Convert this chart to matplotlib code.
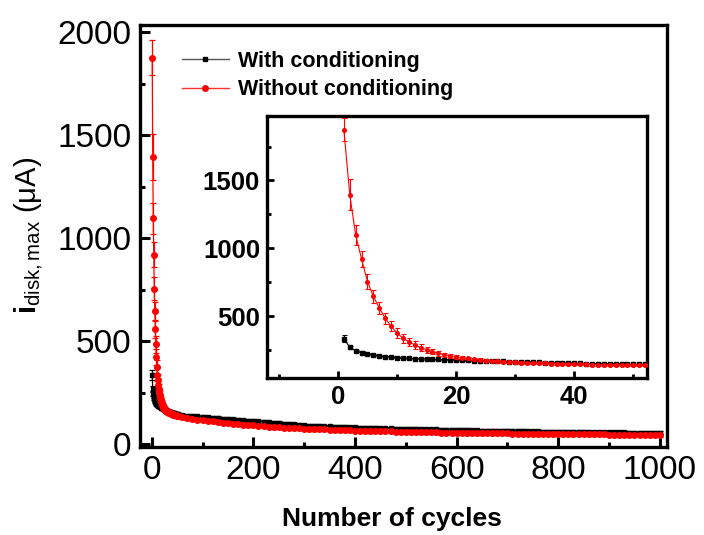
import numpy as np
import matplotlib
matplotlib.use("Agg")
import matplotlib.pyplot as plt
from matplotlib.lines import Line2D
from matplotlib.ticker import MultipleLocator

plt.rcParams['font.family'] = ['Liberation Sans', 'DejaVu Sans']
plt.rcParams['mathtext.fontset'] = 'custom'
plt.rcParams['mathtext.rm'] = 'Liberation Sans'
plt.rcParams['mathtext.bf'] = 'Liberation Sans:bold'
plt.rcParams['mathtext.it'] = 'Liberation Sans:italic'

# ---- data: peak disk current per cycle ----
early_cycles = list(range(1, 53))
with_cond_early = [335, 270, 245, 232, 222, 214, 207, 202, 198, 194,
                   191, 189, 187, 185, 184, 182, 181, 179, 178, 177,
                   175, 174, 172, 171, 170, 168, 167, 166, 164, 163,
                   162, 161, 160, 159, 158, 157, 156, 155, 154, 153,
                   152, 151, 150, 150, 149, 148, 147, 147, 146, 145,
                   145, 144]
with_cond_early_err = [25, 12, 9, 8, 7, 7, 6, 6, 6, 6,
                       5, 5, 5, 5, 5, 5, 5, 5, 5, 5,
                       5, 5, 5, 5, 5, 5, 5, 5, 5, 5,
                       5, 5, 5, 5, 5, 5, 5, 5, 5, 5,
                       5, 5, 5, 5, 5, 5, 5, 5, 5, 5,
                       5, 5]
without_cond_early = [1875, 1395, 1098, 920, 755, 645, 560, 485, 425, 375,
                      338, 312, 288, 268, 252, 238, 226, 216, 208, 201,
                      194, 188, 183, 178, 173, 170, 167, 164, 162, 160,
                      158, 156, 155, 153, 152, 151, 150, 149, 148, 146,
                      145, 144, 143, 143, 142, 141, 140, 140, 139, 138,
                      138, 137]
without_cond_early_err = [85, 112, 75, 60, 55, 45, 42, 40, 38, 35,
                          33, 30, 28, 25, 22, 20, 18, 16, 15, 14,
                          13, 12, 12, 11, 11, 10, 10, 10, 9, 9,
                          9, 9, 9, 8, 8, 8, 8, 8, 8, 8,
                          8, 8, 8, 8, 8, 8, 8, 8, 8, 8,
                          8, 8]

late_cycles = list(range(60, 1001, 10))
with_cond_late = [141, 139, 137, 135, 133, 131, 129, 127, 125, 123,
                  121, 119, 117, 115, 113, 111, 109, 107, 105, 103,
                  101, 99, 97, 95, 93, 91, 90, 89, 88, 87,
                  86, 85, 84, 83, 82, 81, 80, 80, 79, 78,
                  78, 77, 76, 76, 75, 74, 74, 73, 73, 72,
                  72, 71, 71, 70, 70, 69, 69, 68, 68, 67,
                  67, 66, 66, 65, 65, 65, 64, 64, 63, 63,
                  63, 62, 62, 62, 61, 61, 61, 60, 60, 60,
                  59, 59, 59, 59, 58, 58, 58, 58, 57, 57,
                  57, 57, 56, 56, 56]
without_cond_late = [132, 128, 124, 120, 117, 114, 111, 108, 105, 102,
                     100, 98, 96, 94, 92, 90, 88, 86, 84, 82,
                     81, 80, 78, 77, 76, 75, 74, 73, 72, 71,
                     70, 70, 69, 68, 67, 67, 66, 65, 65, 64,
                     63, 63, 62, 62, 61, 60, 60, 59, 59, 58,
                     58, 57, 57, 56, 56, 56, 55, 55, 55, 54,
                     54, 54, 53, 53, 53, 52, 52, 52, 51, 51,
                     51, 51, 50, 50, 50, 50, 49, 49, 49, 49,
                     48, 48, 48, 48, 47, 47, 47, 47, 47, 46,
                     46, 46, 46, 45, 45]
late_err = 8

series_labels = ["With conditioning", "Without conditioning"]
main_xticks = [0, 200, 400, 600, 800, 1000]
main_yticks = [0, 500, 1000, 1500, 2000]
inset_xticks = [0, 20, 40]
inset_yticks = [500, 1000, 1500]

cyc = np.array(early_cycles + late_cycles)
w = np.array(with_cond_early + with_cond_late)
w_err = np.array(with_cond_early_err + [late_err] * len(late_cycles))
wo = np.array(without_cond_early + without_cond_late)
wo_err = np.array(without_cond_early_err + [late_err] * len(late_cycles))

fig = plt.figure(figsize=(7.04, 5.35), dpi=100)
ax = fig.add_axes([0.1989, 0.1645, 0.7485, 0.7888])

ax.errorbar(cyc, w, yerr=w_err, color='black', marker='s', ms=3.2, lw=0.9,
            elinewidth=0.9, capsize=2, capthick=0.9, zorder=3)
ax.errorbar(cyc, wo, yerr=wo_err, color='#ff0000', marker='o', ms=4, lw=0.9,
            elinewidth=0.9, capsize=2.5, capthick=0.9, zorder=4)

ax.set_xlim(-23, 1014)
ax.set_ylim(-13, 2035)
ax.set_xticks(main_xticks)
ax.set_yticks(main_yticks)
ax.xaxis.set_minor_locator(MultipleLocator(100))
ax.yaxis.set_minor_locator(MultipleLocator(250))
ax.tick_params(axis='both', which='major', direction='in', length=7, width=2.2,
               labelsize=24, top=False, right=False, pad=6)
ax.tick_params(axis='both', which='minor', direction='in', length=3.5, width=2.2,
               top=False, right=False)
for s in ax.spines.values():
    s.set_linewidth(2.4)

ax.set_xlabel("Number of cycles", fontsize=19, fontweight='bold')
ax.xaxis.set_label_coords(0.478, -0.142)
ax.set_ylabel(r"$\mathbf{i}_{\mathrm{disk,max}}$ (μA)", fontsize=21)
ax.yaxis.set_label_coords(-0.18, 0.5)

handles = [
    Line2D([], [], color='#555555', lw=1.0, marker='s', ms=3, mfc='black', mec='black'),
    Line2D([], [], color='#ff3030', lw=1.0, marker='o', ms=4, mfc='#ff0000', mec='#ff0000'),
]
ax.legend(handles, series_labels, loc='upper left', bbox_to_anchor=(0.042, 0.985),
          frameon=False, prop={'weight': 'bold', 'size': 15.5},
          handlelength=2.2, handletextpad=0.4, labelspacing=0.35)

# ---- inset: first cycles ----
ins = fig.add_axes([0.3793, 0.2929, 0.5397, 0.4903])
ins.errorbar(early_cycles, with_cond_early, yerr=with_cond_early_err, color='black',
             marker='s', ms=2.4, lw=0.8, elinewidth=0.8, capsize=1.8, capthick=0.8, zorder=3)
ins.errorbar(early_cycles, without_cond_early, yerr=without_cond_early_err, color='#ff0000',
             marker='o', ms=2.6, lw=0.8, elinewidth=0.8, capsize=1.8, capthick=0.8, zorder=4)
ins.set_xlim(-12, 52.3)
ins.set_ylim(42, 1975)
ins.set_xticks(inset_xticks)
ins.set_yticks(inset_yticks)
ins.xaxis.set_minor_locator(MultipleLocator(10))
ins.yaxis.set_minor_locator(MultipleLocator(250))
ins.tick_params(axis='both', which='major', direction='in', length=5, width=2,
                labelsize=18.5, top=False, right=False, pad=5)
ins.tick_params(axis='both', which='minor', direction='in', length=3, width=2,
                top=False, right=False)
for lab in ins.get_xticklabels() + ins.get_yticklabels():
    lab.set_fontweight('bold')
for s in ins.spines.values():
    s.set_linewidth(2.4)

fig.savefig("out.png", dpi=100)
